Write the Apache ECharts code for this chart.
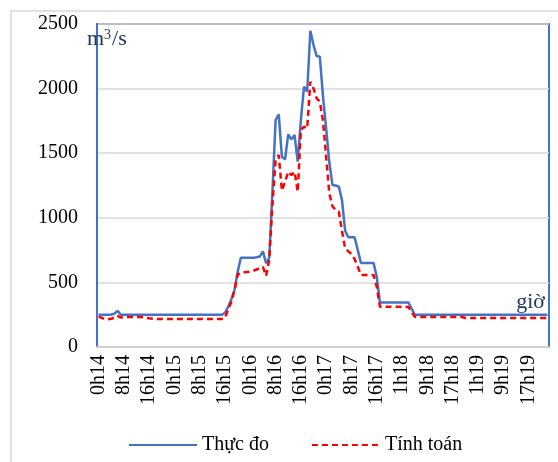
<!DOCTYPE html>
<html>
<head>
<meta charset="utf-8">
<script src="https://cdn.jsdelivr.net/npm/echarts@6/dist/echarts.min.js"></script>
<style>
  html, body { margin: 0; padding: 0; background: #fff; }
  #chart { width: 558px; height: 462px; }
</style>
</head>
<body>
<div id="chart"></div>
<script>
// Hourly discharge (m3/s), 0h on day 14 to 23h on day 19 (23h17 not recorded)
const days = [14, 15, 16, 17, 18, 19];
const skippedHour = '23h17';

// Measured discharge
const measured = [
  250, 250, 250, 250, 252, 258, 280, 250, 250, 250, 250, 250, 250, 250, 250, 250, 250, 250, 250, 250,
  250, 250, 250, 250, 250, 250, 250, 250, 250, 250, 250, 250, 250, 250, 250, 250, 250, 250, 250, 250,
  265, 310, 370, 440, 580, 690, 690, 690, 690, 690, 695, 700, 740, 648, 690, 1200, 1757, 1800, 1470, 1453,
  1646, 1607, 1641, 1434, 1757, 2015, 1976, 2448, 2337, 2252, 2247, 1940, 1690, 1430, 1254, 1250, 1241, 1138, 900, 850,
  850, 849, 750, 650, 650, 650, 650, 650, 544, 345, 345, 345, 345, 345, 345, 345, 345, 345, 345, 300,
  250, 250, 250, 250, 250, 250, 250, 250, 250, 250, 250, 250, 250, 250, 250, 250, 250, 250, 250, 250,
  250, 250, 250, 250, 250, 250, 250, 250, 250, 250, 250, 250, 250, 250, 250, 250, 250, 250, 250, 250,
  250, 250, 250
];

// Computed discharge
const computed = [
  235, 225, 215, 214, 218, 228, 240, 228, 232, 232, 232, 232, 232, 232, 230, 226, 222, 219, 217, 217,
  217, 217, 217, 217, 217, 217, 217, 217, 217, 217, 217, 217, 217, 217, 217, 217, 217, 217, 217, 217,
  225, 290, 350, 440, 560, 575, 578, 580, 583, 590, 600, 610, 620, 550, 680, 1100, 1447, 1486, 1210, 1280,
  1357, 1331, 1357, 1202, 1680, 1705, 1692, 2053, 2002, 1925, 1899, 1750, 1470, 1188, 1090, 1060, 1047, 900, 764, 740,
  720, 680, 621, 557, 557, 557, 557, 557, 467, 312, 312, 312, 312, 312, 312, 312, 312, 312, 310, 270,
  235, 232, 232, 232, 232, 232, 232, 232, 232, 232, 232, 232, 232, 232, 232, 232, 225, 225, 225, 225,
  225, 225, 225, 225, 225, 225, 225, 225, 225, 225, 225, 225, 225, 225, 225, 225, 225, 225, 225, 225,
  225, 225, 225
];

const yTicks = [0, 500, 1000, 1500, 2000, 2500];
const seriesNames = ['Thực đo', 'Tính toán'];
const timeLabel = 'giờ';

// Category labels such as "0h14", "1h14", ...
const hours = [];
days.forEach(d => {
  for (let h = 0; h < 24; h++) {
    const name = h + 'h' + d;
    if (name !== skippedHour) hours.push(name);
  }
});

const serif = '"Liberation Serif", "Times New Roman", serif';
const chart = echarts.init(document.getElementById('chart'), null, { renderer: 'canvas' });

chart.setOption({
  animation: false,
  backgroundColor: '#ffffff',
  textStyle: { fontFamily: serif },
  grid: {
    left: 97, top: 24, right: 9, bottom: 115,
    show: true,
    borderColor: '#4472C4',
    borderWidth: 2
  },
  graphic: [
    {
      type: 'rect', silent: true, z: -10,
      shape: { x: 11, y: 11, width: 620, height: 520 },
      style: { fill: 'none', stroke: '#d9d9d9', lineWidth: 1.5 }
    },
    {
      // unit label: m with superscript 3, then /s
      type: 'text', left: 87, top: 28, z: 10,
      style: {
        text: '{b|m}{s|3}{b|/s}',
        rich: {
          b: { fill: '#1F3864', fontSize: 22, fontFamily: serif, verticalAlign: 'bottom' },
          s: { fill: '#1F3864', fontSize: 14, fontFamily: serif, verticalAlign: 'top', padding: [0, 1, 8, 0] }
        }
      }
    },
    {
      type: 'text', right: 13, top: 291, z: 10,
      style: { text: timeLabel, fill: '#1F3864', font: '22px ' + serif }
    }
  ],
  legend: {
    data: seriesNames,
    left: 123, top: 430,
    itemWidth: 68, itemHeight: 14, itemGap: 42,
    itemStyle: { opacity: 0 },
    textStyle: { fontFamily: serif, fontSize: 20, color: '#000' }
  },
  xAxis: {
    type: 'category',
    data: hours,
    boundaryGap: true,
    axisLine: { lineStyle: { color: '#d0d0d0', width: 2 } },
    axisTick: { show: false },
    axisLabel: {
      interval: 7,
      rotate: 90,
      margin: 8,
      fontFamily: serif,
      fontSize: 20,
      color: '#000'
    },
    splitLine: { show: false }
  },
  yAxis: {
    type: 'value',
    min: yTicks[0],
    max: yTicks[yTicks.length - 1],
    interval: 500,
    axisLine: { show: true, lineStyle: { color: '#4472C4', width: 2 } },
    axisTick: { show: false },
    axisLabel: {
      margin: 19,
      fontFamily: serif,
      fontSize: 20,
      color: '#000',
      formatter: v => String(v)
    },
    splitLine: { lineStyle: { color: '#d9d9d9', width: 1.5 } }
  },
  series: [
    {
      name: seriesNames[0],
      type: 'line',
      data: measured,
      showSymbol: false,
      symbol: 'none',
      lineStyle: { color: '#4472C4', width: 2.5 },
      itemStyle: { color: '#4472C4' },
      z: 3
    },
    {
      name: seriesNames[1],
      type: 'line',
      data: computed,
      showSymbol: false,
      symbol: 'none',
      lineStyle: { color: '#FF0000', width: 2.5, type: [6, 4] },
      itemStyle: { color: '#FF0000' },
      z: 4
    }
  ]
});
</script>
</body>
</html>
